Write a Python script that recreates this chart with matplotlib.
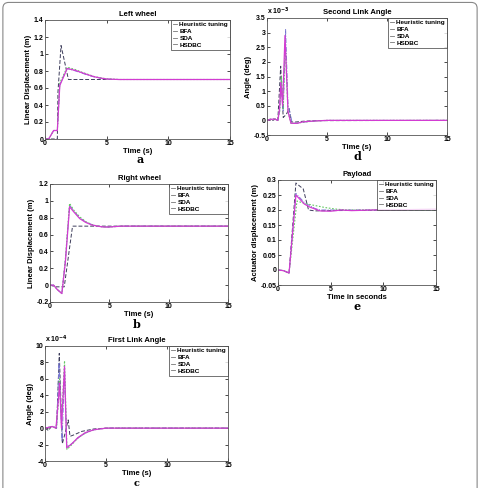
import matplotlib
matplotlib.use("Agg")
import matplotlib.pyplot as plt
from matplotlib.patches import FancyBboxPatch
from matplotlib.ticker import FuncFormatter

plt.rcParams['font.family'] = ['Liberation Sans', 'DejaVu Sans']
plt.rcParams['font.weight'] = 'bold'

series_names = ["Heuristic tuning", "BFA", "SDA", "HSDBC"]

# ---- Panel a: Left wheel (m) ----
a_heur_t = [0, 1.0, 1.05, 1.3, 1.9, 15]
a_heur_y = [0, 0, 0.55, 1.1, 0.7, 0.7]
a_bfa_t = [0, 0.3, 0.7, 1.0, 1.2, 1.8, 2.5, 3, 3.5, 4, 4.5, 5, 6, 15]
a_bfa_y = [0, 0, 0.1, 0.1, 0.64, 0.83, 0.80, 0.775, 0.75, 0.73, 0.715, 0.705, 0.70, 0.70]
a_sda_t = [0, 0.3, 0.7, 1.0, 1.2, 1.8, 2.5, 3, 3.5, 4, 4.5, 5, 6, 15]
a_sda_y = [0, 0, 0.1, 0.1, 0.66, 0.845, 0.815, 0.785, 0.76, 0.735, 0.72, 0.708, 0.70, 0.70]
a_hsd_t = [0, 0.3, 0.7, 1.0, 1.2, 1.8, 2.5, 3, 3.5, 4, 4.5, 5, 6, 15]
a_hsd_y = [0, 0, 0.1, 0.1, 0.63, 0.83, 0.805, 0.78, 0.755, 0.732, 0.717, 0.706, 0.70, 0.70]

# ---- Panel b: Right wheel (m) ----
b_heur_t = [0, 0.5, 1.2, 1.9, 15]
b_heur_y = [0, -0.02, -0.02, 0.7, 0.7]
b_bfa_t = [0, 0.3, 0.6, 1.0, 1.3, 1.65, 2.0, 2.5, 3, 3.5, 4, 4.5, 5, 6, 15]
b_bfa_y = [0, 0.0, -0.05, -0.1, 0.3, 0.95, 0.88, 0.80, 0.75, 0.72, 0.70, 0.69, 0.69, 0.70, 0.70]
b_sda_t = [0, 0.3, 0.6, 1.0, 1.3, 1.65, 2.0, 2.5, 3, 3.5, 4, 4.5, 5, 6, 15]
b_sda_y = [0, 0.0, -0.05, -0.1, 0.32, 0.97, 0.89, 0.81, 0.755, 0.72, 0.70, 0.69, 0.69, 0.70, 0.70]
b_hsd_t = [0, 0.3, 0.6, 1.0, 1.3, 1.65, 2.0, 2.5, 3, 3.5, 4, 4.5, 5, 6, 15]
b_hsd_y = [0, 0.0, -0.05, -0.1, 0.28, 0.93, 0.87, 0.79, 0.745, 0.715, 0.70, 0.69, 0.69, 0.70, 0.70]

# ---- Panel c: First Link Angle (x 1e-4 deg) ----
c_heur_t = [0, 0.3, 0.5, 0.8, 0.95, 1.17, 1.42, 1.65, 1.9, 2.05, 2.4, 3, 4, 5, 15]
c_heur_y = [0, -0.3, 0.2, 0.1, 0, 9.1, -1.9, -0.6, 1.0, -1.0, -0.8, -0.4, -0.1, 0, 0]
c_bfa_t = [0, 0.3, 0.5, 0.8, 0.95, 1.15, 1.4, 1.6, 1.78, 2.2, 2.7, 3.3, 4, 5, 15]
c_bfa_y = [0, 0.1, 0.2, 0.1, 0, 8.0, -1.5, 7.0, -2.3, -1.9, -1.2, -0.6, -0.2, 0, 0]
c_sda_t = [0, 0.3, 0.6, 0.9, 1.1, 1.2, 1.35, 1.6, 1.8, 2.2, 2.7, 3.3, 4, 5, 15]
c_sda_y = [0, 0.1, 0.2, 0, 3.0, 6.0, 0.5, 8.2, -2.6, -2.0, -1.2, -0.6, -0.2, 0, 0]
c_hsd_t = [0, 0.3, 0.6, 0.9, 1.1, 1.2, 1.35, 1.6, 1.78, 2.2, 2.7, 3.3, 4, 5, 15]
c_hsd_y = [0, 0.1, 0.2, 0, 3.5, 5.5, 0.0, 7.5, -2.4, -1.9, -1.15, -0.55, -0.2, 0, 0]

# ---- Panel d: Second Link Angle (x 1e-3 deg) ----
d_heur_t = [0, 0.3, 0.5, 0.7, 0.9, 1.14, 1.35, 1.6, 1.85, 2.0, 2.3, 3, 4, 15]
d_heur_y = [0, 0.05, 0.0, 0.05, 0, 1.85, 0.1, 0.2, 0.4, -0.05, -0.06, -0.03, -0.01, 0]
d_bfa_t = [0, 0.3, 0.6, 0.9, 1.05, 1.2, 1.35, 1.55, 1.75, 1.9, 2.1, 2.5, 3, 4, 5, 15]
d_bfa_y = [0, 0.03, 0.05, 0.0, 0.3, 1.4, 0.3, 3.1, 0.5, 0.3, -0.1, -0.1, -0.06, -0.02, 0, 0]
d_sda_t = [0, 0.3, 0.6, 0.9, 1.05, 1.2, 1.35, 1.52, 1.75, 2.0, 2.5, 3, 4, 5, 15]
d_sda_y = [0, 0.03, 0.05, 0.0, 0.3, 1.5, 0.4, 2.6, 0.3, -0.1, -0.1, -0.06, -0.02, 0, 0]
d_hsd_t = [0, 0.3, 0.6, 0.9, 1.05, 1.15, 1.3, 1.5, 1.75, 2.0, 2.5, 3, 4, 5, 15]
d_hsd_y = [0, 0.03, 0.05, 0.0, 0.4, 1.3, 0.5, 2.9, 0.3, -0.1, -0.1, -0.05, -0.02, 0, 0]

# ---- Panel e: Payload (actuator displacement, m) ----
e_heur_t = [0, 0.5, 1.05, 1.7, 2.4, 2.9, 3.5, 5, 15]
e_heur_y = [0, -0.002, -0.01, 0.29, 0.27, 0.20, 0.197, 0.198, 0.20]
e_bfa_t = [0, 0.5, 1.05, 1.7, 2.5, 3, 3.5, 4, 15]
e_bfa_y = [0, -0.002, -0.01, 0.255, 0.225, 0.215, 0.205, 0.20, 0.20]
e_sda_t = [0, 0.5, 1.05, 1.8, 2.5, 3.5, 4.5, 5.5, 6.5, 15]
e_sda_y = [0, -0.002, -0.01, 0.23, 0.222, 0.215, 0.208, 0.203, 0.20, 0.20]
e_hsd_t = [0, 0.5, 1.05, 1.7, 2.5, 3, 4, 5, 6, 7, 9, 12, 15]
e_hsd_y = [0, -0.002, -0.01, 0.25, 0.22, 0.21, 0.197, 0.196, 0.20, 0.198, 0.20, 0.201, 0.203]

colors = ['#3c3c5a', '#7878d2', '#62c862', '#d23cd2']
styles = [(0, (4, 2)), (0, (5, 1.5, 1, 1.5)), (0, (1.5, 1.5)), '-']
widths = [0.7, 0.7, 0.8, 0.9]

fig = plt.figure(figsize=(4.8, 4.88), dpi=100)

# outer rounded frame
frame = FancyBboxPatch((0.006, -0.05), 0.988, 1.045, boxstyle="round,pad=0,rounding_size=0.012",
                       transform=fig.transFigure, facecolor='none', edgecolor='#888888', lw=0.8)
fig.add_artist(frame)

fmt = FuncFormatter(lambda v, p: ('%g' % round(v, 6)))

def panel(rect, title, xlabel, ylabel, data, ylim, yticks, letter, letter_xy, exp=None,
          letter_va='center', letter_size=8):
    ax = fig.add_axes(rect)
    for (t, y), c, s, w, n in zip(data, colors, styles, widths, series_names):
        ax.plot(t, y, color=c, ls=s, lw=w, label=n)
    ax.set_xlim(0, 15)
    ax.set_ylim(*ylim)
    ax.set_xticks([0, 5, 10, 15])
    ax.set_yticks(yticks)
    ax.xaxis.set_major_formatter(fmt)
    ax.yaxis.set_major_formatter(fmt)
    ax.tick_params(direction='in', length=2, width=0.5, labelsize=5, pad=1,
                   top=True, right=True)
    for sp in ax.spines.values():
        sp.set_linewidth(0.6)
        sp.set_color('#555555')
    ax.set_title(title, fontsize=5.5, fontweight='bold', pad=3)
    ax.set_xlabel(xlabel, fontsize=5.5, fontweight='bold', labelpad=0.5)
    ax.set_ylabel(ylabel, fontsize=5.5, fontweight='bold', labelpad=1)
    leg = ax.legend(loc='upper right', fontsize=4.6, frameon=True, fancybox=False,
                    borderaxespad=0, handlelength=0.6, handletextpad=0.4,
                    labelspacing=0.2, borderpad=0.3)
    leg.get_frame().set_edgecolor('#333333')
    leg.get_frame().set_linewidth(0.6)
    for txt in leg.get_texts():
        txt.set_fontweight('bold')
    for ln in leg.get_lines():
        ln.set_color('#777777')
        ln.set_linestyle('-')
        ln.set_linewidth(0.6)
    if exp is not None:
        ax.text(0.0, 1.005, r'x 10$^{%d}$' % exp, transform=ax.transAxes,
                fontsize=5, fontweight='bold', ha='left', va='bottom')
    fig.text(letter_xy[0] / 480, 1 - letter_xy[1] / 488, letter, fontsize=letter_size,
             family='DejaVu Serif', fontweight='bold', ha='center', va=letter_va)
    return ax

panel([45/480, 1-139/488, 185/480, 119/488], 'Left wheel', 'Time (s)',
      'Linear Displacement (m)',
      [(a_heur_t, a_heur_y), (a_bfa_t, a_bfa_y), (a_sda_t, a_sda_y), (a_hsd_t, a_hsd_y)],
      (0, 1.4), [0, 0.2, 0.4, 0.6, 0.8, 1, 1.2, 1.4], 'a', (140, 160))

panel([267/480, 1-135/488, 180/480, 117/488], 'Second Link Angle', 'Time (s)',
      'Angle (deg)',
      [(d_heur_t, d_heur_y), (d_bfa_t, d_bfa_y), (d_sda_t, d_sda_y), (d_hsd_t, d_hsd_y)],
      (-0.5, 3.5), [-0.5, 0, 0.5, 1, 1.5, 2, 2.5, 3, 3.5], 'd', (357, 157), exp=-3)

panel([50/480, 1-302/488, 178/480, 118/488], 'Right wheel', 'Time (s)',
      'Linear Displacement (m)',
      [(b_heur_t, b_heur_y), (b_bfa_t, b_bfa_y), (b_sda_t, b_sda_y), (b_hsd_t, b_hsd_y)],
      (-0.2, 1.2), [-0.2, 0, 0.2, 0.4, 0.6, 0.8, 1, 1.2], 'b', (137, 324))

panel([278/480, 1-285/488, 158/480, 105/488], 'Payload', 'Time in seconds',
      'Actuator displacement (m)',
      [(e_heur_t, e_heur_y), (e_bfa_t, e_bfa_y), (e_sda_t, e_sda_y), (e_hsd_t, e_hsd_y)],
      (-0.05, 0.3), [-0.05, 0, 0.05, 0.1, 0.15, 0.2, 0.25, 0.3], 'e', (357, 307))

panel([45/480, 1-461/488, 183/480, 115/488], 'First Link Angle', 'Time (s)',
      'Angle (deg)',
      [(c_heur_t, c_heur_y), (c_bfa_t, c_bfa_y), (c_sda_t, c_sda_y), (c_hsd_t, c_hsd_y)],
      (-4, 10), [-4, -2, 0, 2, 4, 6, 8, 10], 'c', (137, 479), exp=-4,
      letter_va='top', letter_size=7)

fig.savefig('out.png', dpi=100)
